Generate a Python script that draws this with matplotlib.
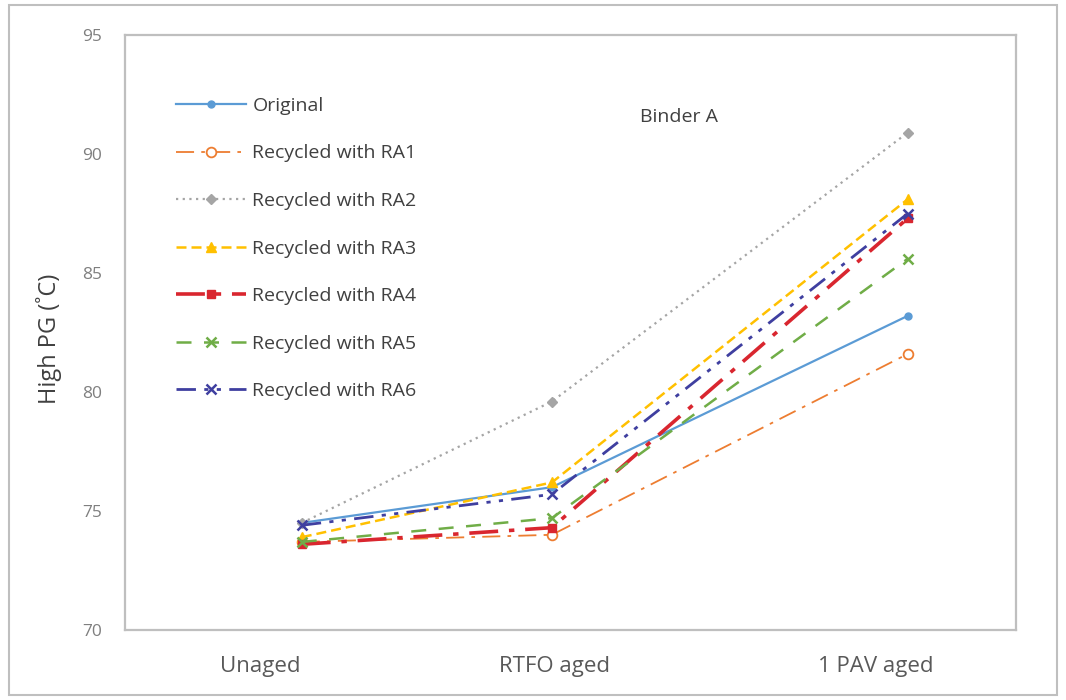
import matplotlib.pyplot as plt
from matplotlib.patches import Rectangle

plt.rcParams['font.family'] = ['Open Sans', 'DejaVu Sans']

# aging stages and where each one sits along the x axis
stages = ["Unaged", "RTFO aged", "1 PAV aged"]
stage_x = [0.596, 1.438, 2.636]
label_x = [0.455, 1.448, 2.529]

# high PG temperature (deg C) per binder
original = [74.5, 76.0, 83.2]
ra1 = [73.7, 74.0, 81.6]
ra2 = [74.5, 79.6, 90.9]
ra3 = [73.9, 76.2, 88.1]
ra4 = [73.6, 74.3, 87.3]
ra5 = [73.7, 74.7, 85.6]
ra6 = [74.4, 75.7, 87.5]

series = [
    ("Original", original, dict(color="#5B9BD5", ls="-", lw=1.6, marker="o", ms=5)),
    ("Recycled with RA1", ra1, dict(color="#ED7D31", ls=(0, (10, 4, 2, 4)), lw=1.3,
                                    marker="o", ms=7, mfc="white", mew=1.3)),
    ("Recycled with RA2", ra2, dict(color="#A5A5A5", ls=(0, (1, 2)), lw=1.6, marker="D", ms=5)),
    ("Recycled with RA3", ra3, dict(color="#FFC000", ls=(0, (4, 2)), lw=1.8, marker="^", ms=7)),
    ("Recycled with RA4", ra4, dict(color="#D9262F", ls=(0, (8, 3, 1.5, 3)), lw=2.6, marker="s", ms=6)),
    ("Recycled with RA5", ra5, dict(color="#70AD47", ls=(0, (6, 5)), lw=1.8, marker="x", ms=7, mew=1.8)),
    ("Recycled with RA6", ra6, dict(color="#3F3FA0", ls=(0, (7, 3, 1.5, 3, 1.5, 3)), lw=2.0,
                                    marker="x", ms=7, mew=1.8)),
]

fig = plt.figure(figsize=(10.66, 7.0), dpi=100)
ax = fig.add_axes([0.117, 0.1, 0.836, 0.85])

for name, vals, style in series:
    ax.plot(stage_x, vals, label=name, **style)

ax.set_xlim(0, 3)
ax.set_ylim(70, 95)
ax.set_yticks([70, 75, 80, 85, 90, 95])
ax.set_xticks(label_x)
ax.set_xticklabels(stages)
ax.tick_params(axis="x", length=0, pad=19, labelsize=16, labelcolor="#595959")
ax.tick_params(axis="y", length=0, pad=16, labelsize=12.5, labelcolor="#7F7F7F")
for sp in ax.spines.values():
    sp.set_color("#BFBFBF")
    sp.set_linewidth(1.6)

ax.set_ylabel("High PG (˚C)", fontsize=17, color="#404040")
ax.yaxis.set_label_coords(-0.07, 0.49)
ax.text(0.578, 0.862, "Binder A", transform=ax.transAxes, fontsize=14,
        color="#404040", va="center")

leg = ax.legend(loc="upper left", bbox_to_anchor=(0.057, 0.896), frameon=False,
                borderaxespad=0, borderpad=0, fontsize=14, handlelength=3.6,
                handletextpad=0.35, labelspacing=1.52)
for t in leg.get_texts():
    t.set_color("#404040")

# light outer border around the whole chart
fig.patches.append(Rectangle((0.008, 0.007), 0.984, 0.986, transform=fig.transFigure,
                             fill=False, ec="#BFBFBF", lw=1.5))

fig.savefig("out.png", dpi=100)
